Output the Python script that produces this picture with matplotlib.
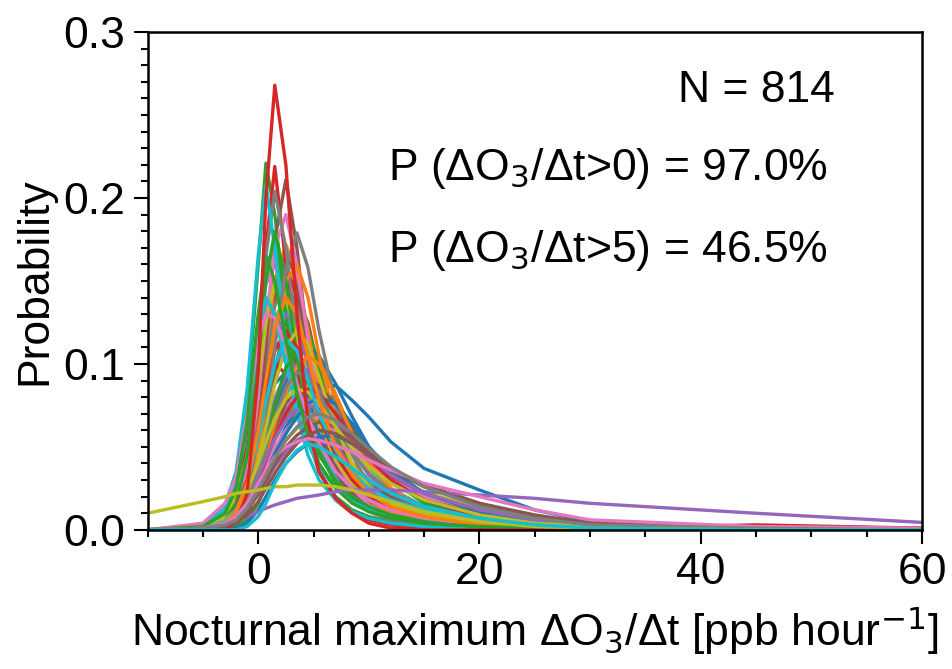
import matplotlib
matplotlib.use('Agg')
import matplotlib.pyplot as plt
from matplotlib.ticker import MultipleLocator

plt.rcParams['font.family'] = ['Liberation Sans', 'DejaVu Sans']
plt.rcParams['mathtext.fontset'] = 'dejavusans'

# shared x grid of the density curves [ppb/hour]
rate_grid = [-10, -5, -3, -2, -1, 0, 0.7, 1.5, 2.5, 3.5, 4.5, 5.5, 7, 8.5, 10, 12, 15, 20, 25, 30, 45, 60]

# probability density of each curve at rate_grid
kde_00 = [0, 0.002, 0.006, 0.014, 0.03, 0.055, 0.072, 0.088, 0.095, 0.09, 0.078, 0.065, 0.048, 0.036, 0.027, 0.019, 0.012, 0.006, 0.003, 0.001, 0, 0]
kde_01 = [0, 0.001, 0.003, 0.008, 0.02, 0.045, 0.068, 0.095, 0.122, 0.13, 0.115, 0.09, 0.058, 0.038, 0.025, 0.016, 0.009, 0.004, 0.002, 0.001, 0, 0]
kde_02 = [0, 0.002, 0.008, 0.02, 0.05, 0.1, 0.135, 0.15, 0.13, 0.1, 0.075, 0.055, 0.036, 0.024, 0.016, 0.01, 0.005, 0.002, 0.001, 0, 0, 0]
kde_03 = [0, 0.001, 0.004, 0.009, 0.02, 0.038, 0.054, 0.072, 0.086, 0.09, 0.082, 0.068, 0.048, 0.032, 0.02, 0.011, 0.005, 0.002, 0.001, 0, 0, 0]
kde_04 = [0, 0.001, 0.005, 0.012, 0.028, 0.056, 0.078, 0.098, 0.11, 0.104, 0.088, 0.07, 0.05, 0.036, 0.026, 0.017, 0.01, 0.004, 0.002, 0.001, 0, 0]
kde_05 = [0, 0, 0.002, 0.006, 0.016, 0.038, 0.062, 0.095, 0.128, 0.14, 0.125, 0.095, 0.06, 0.038, 0.024, 0.015, 0.008, 0.003, 0.001, 0, 0, 0]
kde_06 = [0, 0.002, 0.006, 0.013, 0.027, 0.048, 0.064, 0.08, 0.094, 0.1, 0.096, 0.085, 0.066, 0.049, 0.036, 0.024, 0.014, 0.006, 0.003, 0.001, 0, 0]
kde_07 = [0, 0.001, 0.004, 0.01, 0.026, 0.056, 0.082, 0.108, 0.12, 0.112, 0.092, 0.07, 0.046, 0.031, 0.021, 0.013, 0.007, 0.003, 0.001, 0, 0, 0]
kde_08 = [0, 0, 0.002, 0.005, 0.013, 0.028, 0.042, 0.06, 0.08, 0.095, 0.1, 0.094, 0.074, 0.053, 0.037, 0.023, 0.012, 0.005, 0.002, 0.001, 0, 0]
kde_09 = [0, 0.002, 0.009, 0.022, 0.05, 0.09, 0.115, 0.125, 0.115, 0.095, 0.075, 0.058, 0.04, 0.028, 0.019, 0.012, 0.007, 0.003, 0.001, 0, 0, 0]
kde_10 = [0, 0.001, 0.003, 0.007, 0.014, 0.026, 0.036, 0.048, 0.06, 0.068, 0.073, 0.075, 0.07, 0.06, 0.048, 0.035, 0.022, 0.011, 0.005, 0.002, 0.001, 0]
kde_11 = [0, 0, 0.001, 0.004, 0.011, 0.026, 0.042, 0.062, 0.085, 0.102, 0.11, 0.104, 0.082, 0.058, 0.039, 0.024, 0.012, 0.004, 0.001, 0, 0, 0]
kde_12 = [0, 0, 0.001, 0.002, 0.006, 0.016, 0.027, 0.042, 0.058, 0.072, 0.081, 0.085, 0.078, 0.062, 0.046, 0.03, 0.016, 0.006, 0.002, 0.001, 0, 0]
kde_13 = [0, 0.001, 0.003, 0.009, 0.026, 0.065, 0.1, 0.14, 0.16, 0.14, 0.105, 0.072, 0.042, 0.025, 0.015, 0.008, 0.004, 0.001, 0, 0, 0, 0]
kde_14 = [0, 0.001, 0.003, 0.007, 0.016, 0.03, 0.043, 0.058, 0.072, 0.082, 0.085, 0.082, 0.07, 0.056, 0.043, 0.03, 0.018, 0.008, 0.003, 0.001, 0, 0]
kde_15 = [0, 0.002, 0.006, 0.014, 0.03, 0.058, 0.078, 0.096, 0.105, 0.1, 0.087, 0.072, 0.054, 0.04, 0.03, 0.02, 0.012, 0.005, 0.002, 0.001, 0, 0]
kde_16 = [0, 0.003, 0.012, 0.028, 0.065, 0.118, 0.148, 0.16, 0.135, 0.1, 0.072, 0.05, 0.032, 0.021, 0.014, 0.009, 0.005, 0.002, 0.001, 0, 0, 0]
kde_17 = [0, 0.001, 0.004, 0.008, 0.017, 0.03, 0.041, 0.054, 0.067, 0.076, 0.08, 0.078, 0.068, 0.056, 0.045, 0.033, 0.021, 0.01, 0.004, 0.002, 0, 0]
kde_18 = [0, 0.001, 0.004, 0.011, 0.03, 0.066, 0.098, 0.128, 0.14, 0.125, 0.098, 0.072, 0.046, 0.03, 0.02, 0.012, 0.006, 0.002, 0.001, 0, 0, 0]
kde_19 = [0, 0.001, 0.003, 0.007, 0.016, 0.033, 0.048, 0.066, 0.082, 0.092, 0.095, 0.088, 0.07, 0.052, 0.038, 0.025, 0.014, 0.006, 0.002, 0.001, 0, 0]
kde_20 = [0, 0.002, 0.008, 0.019, 0.045, 0.088, 0.118, 0.13, 0.118, 0.096, 0.075, 0.057, 0.038, 0.026, 0.018, 0.011, 0.006, 0.002, 0.001, 0, 0, 0]
kde_21 = [0, 0.002, 0.006, 0.011, 0.021, 0.036, 0.047, 0.058, 0.066, 0.07, 0.069, 0.066, 0.058, 0.049, 0.041, 0.032, 0.022, 0.012, 0.006, 0.002, 0, 0]
kde_22 = [0, 0, 0.001, 0.003, 0.01, 0.026, 0.044, 0.068, 0.095, 0.114, 0.12, 0.1, 0.055, 0.03, 0.018, 0.01, 0.005, 0.002, 0.001, 0, 0, 0]
kde_23 = [0, 0.002, 0.008, 0.018, 0.04, 0.072, 0.092, 0.1, 0.094, 0.08, 0.066, 0.053, 0.038, 0.028, 0.02, 0.014, 0.008, 0.004, 0.002, 0.001, 0.002, 0.001]
kde_24 = [0, 0.001, 0.003, 0.006, 0.012, 0.021, 0.029, 0.038, 0.047, 0.054, 0.058, 0.06, 0.058, 0.052, 0.045, 0.037, 0.027, 0.016, 0.008, 0.004, 0.001, 0]
kde_25 = [0, 0, 0.002, 0.007, 0.022, 0.06, 0.1, 0.145, 0.17, 0.148, 0.108, 0.072, 0.04, 0.023, 0.014, 0.008, 0.004, 0.001, 0, 0, 0, 0]
kde_26 = [0, 0.002, 0.006, 0.012, 0.024, 0.042, 0.055, 0.068, 0.077, 0.08, 0.078, 0.072, 0.06, 0.048, 0.038, 0.028, 0.018, 0.009, 0.004, 0.002, 0, 0]
kde_27 = [0, 0.001, 0.004, 0.01, 0.028, 0.065, 0.1, 0.135, 0.15, 0.135, 0.102, 0.074, 0.046, 0.029, 0.019, 0.011, 0.006, 0.002, 0.001, 0, 0, 0]
kde_28 = [0, 0.001, 0.003, 0.007, 0.014, 0.025, 0.034, 0.044, 0.054, 0.061, 0.065, 0.064, 0.058, 0.05, 0.042, 0.033, 0.023, 0.013, 0.006, 0.003, 0.001, 0]
kde_29 = [0, 0.002, 0.01, 0.025, 0.062, 0.125, 0.16, 0.17, 0.14, 0.102, 0.072, 0.05, 0.031, 0.02, 0.013, 0.008, 0.004, 0.002, 0.001, 0, 0, 0]
kde_30 = [0, 0.001, 0.004, 0.01, 0.022, 0.04, 0.055, 0.072, 0.09, 0.104, 0.11, 0.105, 0.088, 0.068, 0.05, 0.033, 0.018, 0.007, 0.003, 0.001, 0, 0]
kde_31 = [0, 0.001, 0.005, 0.014, 0.035, 0.075, 0.11, 0.15, 0.172, 0.155, 0.12, 0.085, 0.05, 0.03, 0.018, 0.01, 0.005, 0.002, 0.001, 0, 0, 0]
kde_32 = [0, 0.002, 0.012, 0.03, 0.075, 0.16, 0.221, 0.19, 0.13, 0.085, 0.055, 0.035, 0.02, 0.012, 0.008, 0.005, 0.003, 0.001, 0, 0, 0, 0]
kde_33 = [0, 0.001, 0.006, 0.018, 0.05, 0.11, 0.17, 0.219, 0.16, 0.1, 0.06, 0.035, 0.018, 0.01, 0.006, 0.003, 0.001, 0, 0, 0, 0, 0]
kde_34 = [0, 0.002, 0.007, 0.016, 0.035, 0.065, 0.09, 0.115, 0.13, 0.122, 0.1, 0.078, 0.052, 0.035, 0.024, 0.015, 0.008, 0.003, 0.001, 0, 0, 0]
kde_35 = [0, 0, 0.002, 0.006, 0.02, 0.06, 0.11, 0.175, 0.211, 0.17, 0.11, 0.065, 0.035, 0.02, 0.012, 0.006, 0.003, 0.001, 0, 0, 0, 0]
kde_36 = [0, 0.001, 0.004, 0.012, 0.035, 0.08, 0.125, 0.17, 0.19, 0.16, 0.115, 0.075, 0.042, 0.025, 0.015, 0.009, 0.005, 0.002, 0.001, 0, 0, 0]
kde_37 = [0, 0.001, 0.005, 0.015, 0.045, 0.11, 0.165, 0.204, 0.17, 0.115, 0.075, 0.048, 0.028, 0.017, 0.011, 0.006, 0.003, 0.001, 0, 0, 0, 0]
kde_38 = [0, 0.002, 0.008, 0.02, 0.045, 0.09, 0.125, 0.15, 0.14, 0.115, 0.088, 0.065, 0.042, 0.028, 0.019, 0.012, 0.007, 0.003, 0.001, 0, 0, 0]
kde_39 = [0, 0.003, 0.015, 0.035, 0.085, 0.165, 0.208, 0.17, 0.11, 0.07, 0.045, 0.03, 0.018, 0.011, 0.007, 0.004, 0.002, 0.001, 0, 0, 0, 0]
kde_40 = [0, 0, 0.001, 0.004, 0.012, 0.025, 0.035, 0.048, 0.062, 0.073, 0.081, 0.086, 0.087, 0.078, 0.068, 0.053, 0.037, 0.024, 0.012, 0.005, 0.001, 0]
kde_41 = [0, 0, 0.002, 0.006, 0.018, 0.045, 0.075, 0.115, 0.15, 0.16, 0.14, 0.105, 0.065, 0.038, 0.022, 0.012, 0.006, 0.002, 0.001, 0, 0, 0]
kde_42 = [0, 0.001, 0.006, 0.016, 0.045, 0.1, 0.15, 0.18, 0.15, 0.105, 0.07, 0.047, 0.028, 0.018, 0.012, 0.007, 0.004, 0.002, 0.001, 0, 0, 0]
kde_43 = [0, 0.001, 0.005, 0.013, 0.03, 0.06, 0.085, 0.108, 0.12, 0.11, 0.09, 0.068, 0.045, 0.03, 0.02, 0.013, 0.008, 0.004, 0.002, 0.001, 0.002, 0]
kde_44 = [0, 0.001, 0.004, 0.01, 0.022, 0.042, 0.06, 0.078, 0.093, 0.1, 0.096, 0.085, 0.065, 0.047, 0.033, 0.022, 0.013, 0.006, 0.003, 0.001, 0, 0]
kde_45 = [0, 0.002, 0.005, 0.01, 0.02, 0.035, 0.048, 0.062, 0.076, 0.086, 0.09, 0.087, 0.075, 0.06, 0.046, 0.032, 0.02, 0.01, 0.005, 0.002, 0.001, 0]
kde_46 = [0, 0.001, 0.004, 0.008, 0.016, 0.028, 0.038, 0.05, 0.06, 0.067, 0.07, 0.068, 0.06, 0.05, 0.04, 0.03, 0.02, 0.012, 0.006, 0.003, 0.001, 0]
kde_47 = [0, 0, 0.001, 0.004, 0.012, 0.035, 0.065, 0.11, 0.158, 0.179, 0.158, 0.12, 0.075, 0.045, 0.027, 0.015, 0.007, 0.003, 0.001, 0, 0, 0]
kde_48 = [0, 0.001, 0.003, 0.008, 0.02, 0.042, 0.062, 0.088, 0.11, 0.12, 0.112, 0.092, 0.062, 0.04, 0.026, 0.016, 0.009, 0.004, 0.002, 0.001, 0, 0]
kde_49 = [0, 0.003, 0.012, 0.028, 0.065, 0.115, 0.14, 0.13, 0.1, 0.072, 0.052, 0.038, 0.025, 0.017, 0.012, 0.008, 0.005, 0.002, 0.001, 0, 0, 0]
kde_50 = [0, 0, 0.002, 0.005, 0.012, 0.024, 0.034, 0.046, 0.058, 0.068, 0.076, 0.08, 0.076, 0.064, 0.05, 0.036, 0.022, 0.011, 0.005, 0.002, 0.001, 0.001]
kde_51 = [0, 0.001, 0.003, 0.007, 0.016, 0.032, 0.046, 0.064, 0.083, 0.098, 0.105, 0.1, 0.08, 0.058, 0.04, 0.025, 0.013, 0.005, 0.002, 0.001, 0, 0]
kde_52 = [0, 0, 0.002, 0.006, 0.015, 0.032, 0.05, 0.075, 0.098, 0.106, 0.07, 0.045, 0.03, 0.02, 0.014, 0.009, 0.005, 0.002, 0.001, 0, 0, 0]
kde_53 = [0, 0.001, 0.003, 0.007, 0.016, 0.03, 0.042, 0.056, 0.07, 0.08, 0.085, 0.082, 0.07, 0.056, 0.043, 0.03, 0.018, 0.008, 0.003, 0.001, 0.003, 0.001]
kde_54 = [0, 0.001, 0.004, 0.009, 0.018, 0.032, 0.043, 0.055, 0.066, 0.072, 0.075, 0.073, 0.065, 0.054, 0.044, 0.033, 0.022, 0.012, 0.006, 0.003, 0.001, 0]
kde_55 = [0, 0.001, 0.003, 0.006, 0.012, 0.022, 0.03, 0.04, 0.05, 0.057, 0.062, 0.065, 0.062, 0.055, 0.047, 0.037, 0.027, 0.016, 0.009, 0.004, 0.002, 0.001]
kde_56 = [0, 0.004, 0.016, 0.032, 0.07, 0.115, 0.13, 0.128, 0.11, 0.088, 0.068, 0.052, 0.035, 0.025, 0.018, 0.012, 0.007, 0.003, 0.001, 0, 0, 0]
kde_57 = [0, 0.001, 0.003, 0.008, 0.018, 0.035, 0.05, 0.068, 0.086, 0.095, 0.092, 0.082, 0.063, 0.046, 0.034, 0.023, 0.014, 0.007, 0.003, 0.001, 0, 0]
kde_58 = [0, 0.002, 0.006, 0.012, 0.024, 0.04, 0.053, 0.067, 0.079, 0.085, 0.083, 0.076, 0.062, 0.049, 0.038, 0.028, 0.018, 0.009, 0.004, 0.002, 0, 0]
kde_59 = [0, 0.001, 0.005, 0.012, 0.028, 0.055, 0.078, 0.1, 0.115, 0.108, 0.09, 0.07, 0.048, 0.034, 0.025, 0.018, 0.012, 0.006, 0.003, 0.001, 0, 0]
kde_60 = [0, 0, 0, 0.001, 0.004, 0.012, 0.02, 0.03, 0.04, 0.047, 0.052, 0.056, 0.057, 0.052, 0.045, 0.036, 0.026, 0.015, 0.008, 0.003, 0.001, 0]
kde_61 = [0, 0.001, 0.004, 0.011, 0.028, 0.06, 0.09, 0.122, 0.14, 0.13, 0.105, 0.078, 0.05, 0.033, 0.022, 0.014, 0.008, 0.003, 0.001, 0, 0, 0]
kde_62 = [0, 0.002, 0.01, 0.025, 0.065, 0.13, 0.165, 0.15, 0.115, 0.082, 0.058, 0.04, 0.025, 0.016, 0.011, 0.007, 0.004, 0.002, 0.001, 0, 0, 0]
kde_63 = [0, 0, 0.001, 0.004, 0.022, 0.095, 0.2, 0.268, 0.22, 0.13, 0.065, 0.035, 0.019, 0.01, 0.004, 0.001, 0, 0, 0, 0, 0, 0]
kde_64 = [0, 0.001, 0.003, 0.005, 0.008, 0.011, 0.013, 0.015, 0.017, 0.019, 0.02, 0.021, 0.023, 0.024, 0.024, 0.024, 0.023, 0.021, 0.019, 0.016, 0.01, 0.0045]
kde_65 = [0, 0, 0.002, 0.004, 0.009, 0.017, 0.025, 0.034, 0.044, 0.052, 0.057, 0.06, 0.058, 0.052, 0.045, 0.036, 0.026, 0.015, 0.008, 0.004, 0.002, 0.001]
kde_66 = [0, 0.001, 0.004, 0.008, 0.016, 0.028, 0.036, 0.044, 0.05, 0.053, 0.055, 0.054, 0.051, 0.047, 0.042, 0.036, 0.028, 0.02, 0.012, 0.006, 0.002, 0.001]
kde_67 = [0, 0.001, 0.003, 0.006, 0.013, 0.024, 0.033, 0.043, 0.054, 0.062, 0.068, 0.07, 0.066, 0.058, 0.049, 0.038, 0.026, 0.014, 0.007, 0.003, 0.001, 0]
kde_68 = [0.01, 0.017, 0.02, 0.022, 0.023, 0.024, 0.025, 0.026, 0.026, 0.027, 0.027, 0.027, 0.026, 0.024, 0.021, 0.017, 0.011, 0.005, 0.002, 0.001, 0, 0]
kde_69 = [0, 0, 0, 0, 0.002, 0.008, 0.016, 0.028, 0.04, 0.048, 0.052, 0.05, 0.044, 0.037, 0.03, 0.022, 0.014, 0.007, 0.003, 0.001, 0, 0]

curves = [kde_00, kde_01, kde_02, kde_03, kde_04, kde_05, kde_06, kde_07, kde_08, kde_09,
          kde_10, kde_11, kde_12, kde_13, kde_14, kde_15, kde_16, kde_17, kde_18, kde_19,
          kde_20, kde_21, kde_22, kde_23, kde_24, kde_25, kde_26, kde_27, kde_28, kde_29,
          kde_30, kde_31, kde_32, kde_33, kde_34, kde_35, kde_36, kde_37, kde_38, kde_39,
          kde_40, kde_41, kde_42, kde_43, kde_44, kde_45, kde_46, kde_47, kde_48, kde_49,
          kde_50, kde_51, kde_52, kde_53, kde_54, kde_55, kde_56, kde_57, kde_58, kde_59,
          kde_60, kde_61, kde_62, kde_63, kde_64, kde_65, kde_66, kde_67, kde_68, kde_69]

n_events = 814
p_pos = 97.0
p_gt5 = 46.5

fig = plt.figure(figsize=(9.52, 6.69), dpi=100)
ax = fig.add_axes([0.155, 0.208, 0.8135, 0.744])

for y in curves:
    ax.plot(rate_grid, y, lw=2.4, solid_joinstyle='round')

ax.set_xlim(-10, 60)
ax.set_ylim(0, 0.3)
ax.xaxis.set_major_locator(MultipleLocator(20))
ax.xaxis.set_minor_locator(MultipleLocator(5))
ax.yaxis.set_major_locator(MultipleLocator(0.1))
ax.yaxis.set_minor_locator(MultipleLocator(0.01))
ax.tick_params(which='both', direction='out', width=1.5, labelsize=32, top=False, right=False)
ax.tick_params(which='major', length=10, pad=6)
ax.tick_params(which='minor', length=5)
for s in ax.spines.values():
    s.set_linewidth(1.8)

ax.set_ylabel('Probability', fontsize=32, labelpad=6)
ax.set_xlabel('Nocturnal maximum ΔO$_3$/Δt [ppb hour$^{-1}$]', fontsize=32, labelpad=8)

ax.text(0.685, 0.859, f'N = {n_events}', transform=ax.transAxes, fontsize=32, va='baseline')
ax.text(0.31, 0.703, f'P (ΔO$_3$/Δt>0) = {p_pos:.1f}%', transform=ax.transAxes, fontsize=32, va='baseline')
ax.text(0.31, 0.538, f'P (ΔO$_3$/Δt>5) = {p_gt5:.1f}%', transform=ax.transAxes, fontsize=32, va='baseline')

fig.savefig('out.png', dpi=100)
